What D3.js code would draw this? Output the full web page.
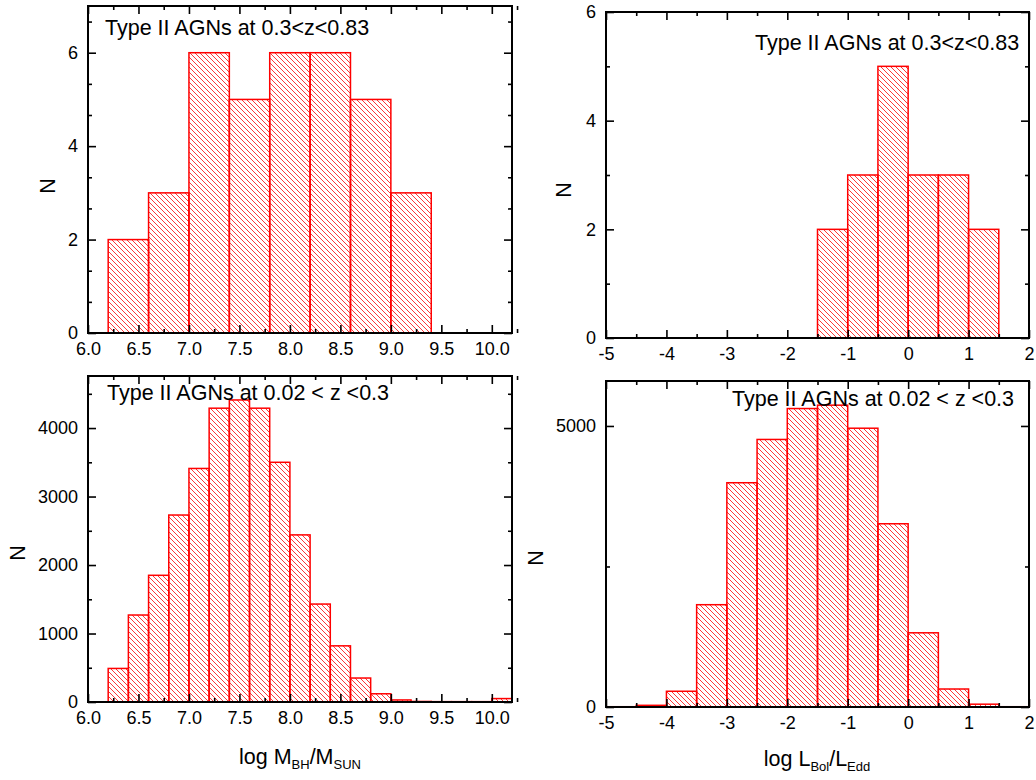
<!DOCTYPE html>
<html>
<head>
<meta charset="utf-8">
<script src="https://cdn.jsdelivr.net/npm/d3@7"></script>
<style>
  body { margin: 0; background: #fff; }
  text { font-family: "Liberation Sans", Arial, sans-serif; fill: #000; }
  .tick text { font-size: 18px; }
</style>
</head>
<body>
<svg id="fig" width="1036" height="780"></svg>
<script>
// ---- data ----
// top-left: log M_BH, 0.3<z<0.83 (bin width 0.4)
const tlBinStart = [6.2, 6.6, 7.0, 7.4, 7.8, 8.2, 8.6, 9.0];
const tlCounts = [2, 3, 6, 5, 6, 6, 5, 3];
// top-right: log Lbol/Ledd, 0.3<z<0.83 (bin width 0.5)
const trBinStart = [-1.5, -1.0, -0.5, 0.0, 0.5, 1.0];
const trCounts = [2, 3, 5, 3, 3, 2];
// bottom-left: log M_BH, 0.02<z<0.3 (bin width 0.2)
const blBinStart = [6.2, 6.4, 6.6, 6.8, 7.0, 7.2, 7.4, 7.6, 7.8, 8.0, 8.2, 8.4, 8.6, 8.8, 9.0, 9.2, 9.4, 9.6, 9.8, 10.0];
const blCounts = [490, 1270, 1850, 2730, 3410, 4290, 4410, 4290, 3500, 2440, 1430, 820, 350, 120, 30, 8, 5, 5, 5, 50];
// bottom-right: log Lbol/Ledd, 0.02<z<0.3 (bin width 0.5)
const brBinStart = [-5.0, -4.5, -4.0, -3.5, -3.0, -2.5, -2.0, -1.5, -1.0, -0.5, 0.0, 0.5, 1.0, 1.5];
const brCounts = [5, 30, 280, 1820, 3990, 4760, 5310, 5370, 4960, 3260, 1320, 320, 50, 5];

// tick labels
const mbhTicks = [6.0, 6.5, 7.0, 7.5, 8.0, 8.5, 9.0, 9.5, 10.0];
const eddTicks = [-5, -4, -3, -2, -1, 0, 1, 2];
const tlYTicks = [0, 2, 4, 6];
const trYTicks = [0, 2, 4, 6];
const blYTicks = [0, 1000, 2000, 3000, 4000];
const brYTicks = [0, 5000];

const svg = d3.select('#fig');

// hatch pattern (\\\ lines)
const defs = svg.append('defs');
defs.append('pattern')
    .attr('id', 'hatch')
    .attr('patternUnits', 'userSpaceOnUse')
    .attr('width', 5).attr('height', 5)
  .append('path')
    .attr('d', 'M0,0 L5,5 M-1,4 L1,6 M4,-1 L6,1')
    .attr('stroke', '#ff2020')
    .attr('stroke-width', 0.9);

function panel(o) {
    const w = o.x1 - o.x0, h = o.y1 - o.y0;
    const x = d3.scaleLinear().domain(o.xDomain).range([0, w]);
    const y = d3.scaleLinear().domain(o.yDomain).range([h, 0]);
    const g = svg.append('g').attr('transform', `translate(${o.x0},${o.y0})`);

    // bars
    const bins = o.starts.map((s, i) => ({ s: s, n: o.counts[i] }));
    g.selectAll('rect.bar').data(bins).enter().append('rect')
        .attr('class', 'bar')
        .attr('x', d => x(d.s))
        .attr('y', d => y(d.n))
        .attr('width', d => x(d.s + o.binW) - x(d.s))
        .attr('height', d => h - y(d.n))
        .attr('fill', 'url(#hatch)')
        .attr('stroke', '#ff0000')
        .attr('stroke-width', 1.5);

    const style = sel => {
        sel.attr('font-size', null).attr('font-family', null);
        sel.select('.domain').remove();
        sel.selectAll('line').attr('stroke', '#000').attr('stroke-width', 1.6);
        sel.selectAll('text').attr('font-size', 18).attr('fill', '#000');
    };

    // major + minor ticks on all four sides, pointing inward
    g.append('g').attr('transform', `translate(0,${h})`)
        .call(d3.axisBottom(x).tickValues(o.xTicks).tickSize(-8).tickPadding(9).tickFormat(o.xFmt)).call(style);
    g.append('g').attr('transform', `translate(0,${h})`)
        .call(d3.axisBottom(x).tickValues(o.xMinor).tickSize(-4).tickFormat('')).call(style);
    g.append('g')
        .call(d3.axisTop(x).tickValues(o.xTicks).tickSize(-8).tickFormat('')).call(style);
    g.append('g')
        .call(d3.axisTop(x).tickValues(o.xMinor).tickSize(-4).tickFormat('')).call(style);

    g.append('g')
        .call(d3.axisLeft(y).tickValues(o.yTicks).tickSize(-8).tickPadding(10)
            .tickFormat(d => String(d))).call(style);
    g.append('g')
        .call(d3.axisLeft(y).tickValues(o.yMinor).tickSize(-4).tickFormat('')).call(style);
    g.append('g').attr('transform', `translate(${w},0)`)
        .call(d3.axisRight(y).tickValues(o.yTicks).tickSize(-8).tickFormat('')).call(style);
    g.append('g').attr('transform', `translate(${w},0)`)
        .call(d3.axisRight(y).tickValues(o.yMinor).tickSize(-4).tickFormat('')).call(style);

    // strip the empty label nodes that tickFormat('') leaves behind
    g.selectAll('.tick text').filter(function () { return this.textContent === ''; }).remove();

    // frame
    g.append('rect').attr('width', w).attr('height', h)
        .attr('fill', 'none').attr('stroke', '#000').attr('stroke-width', 2);

    // title
    svg.append('text').attr('x', o.titleX).attr('y', o.titleY)
        .style('font-size', '21.5px').text(o.title);

    // N
    svg.append('text')
        .attr('transform', `translate(${o.nX},${o.nY}) rotate(-90)`)
        .attr('text-anchor', 'middle').attr('dy', '0.36em')
        .style('font-size', '21.5px').text('N');

    if (o.xLabel) {
        const t = svg.append('text').attr('x', o.xLabelX).attr('y', o.xLabelY)
            .attr('text-anchor', 'middle').style('font-size', '21.5px');
        let down = false;
        o.xLabel.forEach(p => {
            const ts = t.append('tspan').text(p.t);
            if (p.sub) {
                ts.attr('dy', 5).style('font-size', '13px');
                down = true;
            } else if (down) {
                ts.attr('dy', -5);
                down = false;
            }
        });
    }
}

const range = (a, b, s) => d3.range(Math.round((b - a) / s) + 1).map(i => +(a + i * s).toFixed(4));

panel({
    x0: 88, x1: 512, y0: 6, y1: 333,
    xDomain: [6.0, 10.2], yDomain: [0, 7],
    starts: tlBinStart, counts: tlCounts, binW: 0.4,
    xTicks: mbhTicks, xMinor: range(6.25, 10.0, 0.5), xFmt: d3.format('.1f'),
    yTicks: tlYTicks,
    yMinor: [0, 1, 2, 3].flatMap(k => [2 * k + 2 / 3, 2 * k + 4 / 3]).filter(v => v < 7),
    title: 'Type II AGNs at 0.3<z<0.83', titleX: 105, titleY: 35,
    nX: 47, nY: 186
});

panel({
    x0: 606, x1: 1029, y0: 12, y1: 338,
    xDomain: [-5, 2], yDomain: [0, 6],
    starts: trBinStart, counts: trCounts, binW: 0.5,
    xTicks: eddTicks, xMinor: range(-4.5, 1.5, 1), xFmt: d => String(d),
    yTicks: trYTicks, yMinor: [1, 3, 5],
    title: 'Type II AGNs at 0.3<z<0.83', titleX: 755, titleY: 50,
    nX: 563, nY: 190
});

panel({
    x0: 88, x1: 512, y0: 376, y1: 702,
    xDomain: [6.0, 10.2], yDomain: [0, 4760],
    starts: blBinStart, counts: blCounts, binW: 0.2,
    xTicks: mbhTicks, xMinor: range(6.25, 10.0, 0.5), xFmt: d3.format('.1f'),
    yTicks: blYTicks, yMinor: [500, 1500, 2500, 3500, 4500],
    title: 'Type II AGNs at 0.02 < z <0.3', titleX: 107, titleY: 400,
    nX: 17, nY: 553,
    xLabel: [{ t: 'log M' }, { t: 'BH', sub: true }, { t: '/M' }, { t: 'SUN', sub: true }],
    xLabelX: 300, xLabelY: 764
});

panel({
    x0: 606, x1: 1029, y0: 381, y1: 707,
    xDomain: [-5, 2], yDomain: [0, 5800],
    starts: brBinStart, counts: brCounts, binW: 0.5,
    xTicks: eddTicks, xMinor: range(-4.5, 1.5, 1), xFmt: d => String(d),
    yTicks: brYTicks, yMinor: [2500],
    title: 'Type II AGNs at 0.02 < z <0.3', titleX: 732, titleY: 406,
    nX: 535, nY: 558,
    xLabel: [{ t: 'log L' }, { t: 'Bol', sub: true }, { t: '/L' }, { t: 'Edd', sub: true }],
    xLabelX: 817, xLabelY: 766
});
</script>
</body>
</html>
